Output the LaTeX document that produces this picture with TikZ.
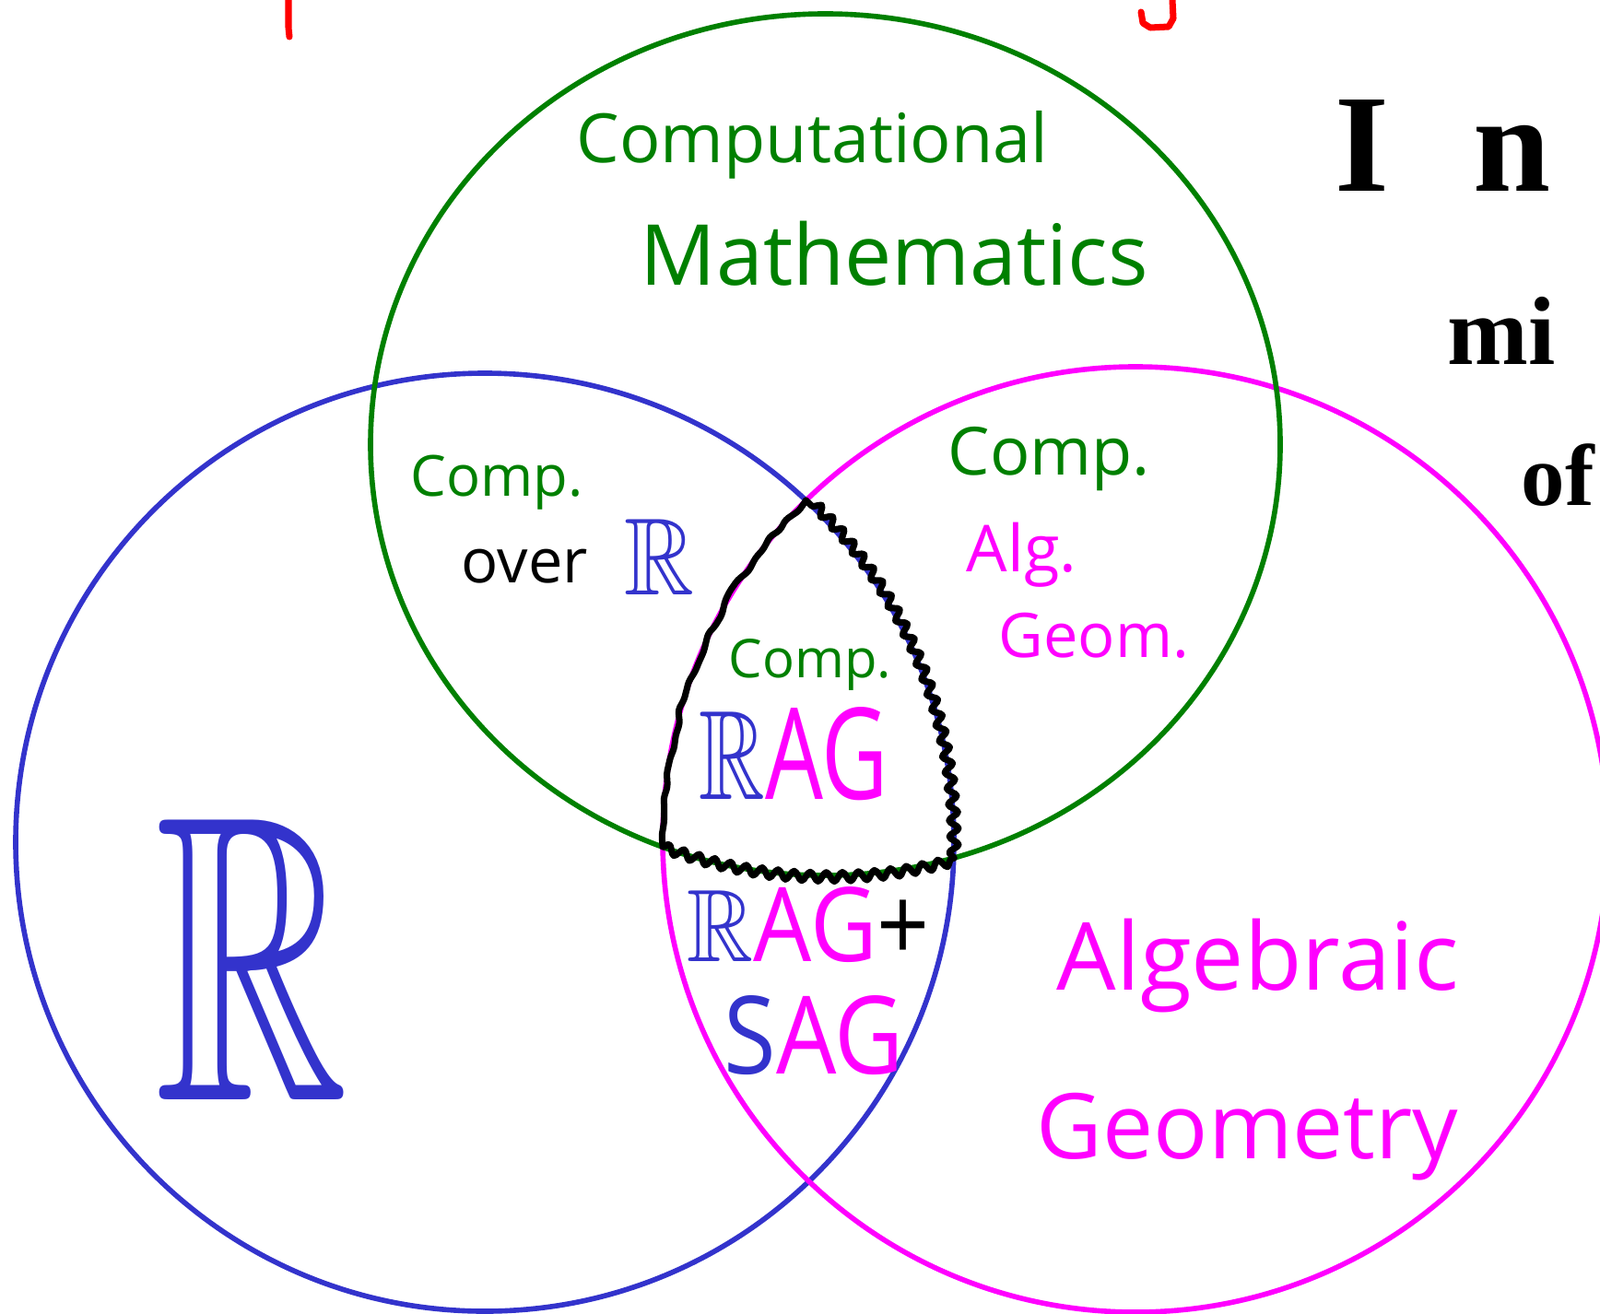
\documentclass[tikz,border=0pt]{standalone}
\usepackage{fontspec}
\setmainfont{Open Sans}
\newfontfamily\sidefont{Liberation Serif}
\usepackage{amssymb}
\usepackage{graphicx}
\usetikzlibrary{decorations.pathmorphing}
\definecolor{CompClr}{rgb}{0,0.5,0}
\definecolor{RealClr}{rgb}{0.2,0.2,0.8}
\definecolor{AlgClr}{rgb}{1,0,1}
\definecolor{CutClr}{rgb}{1,0,0}
\newcommand{\bbR}{$\mathbb{R}$}

\begin{document}
\begin{tikzpicture}[
  ring/.style={line width=1.6pt},
  fuzzy/.style={line width=2pt,line join=round,line cap=round,decorate,
    decoration={snake,amplitude=1.4pt,segment length=5pt}},
  rough/.style={line width=2pt,line join=round,line cap=round,rounded corners=1pt,decorate,
    decoration={random steps,amplitude=.9pt,segment length=4pt}},
  lbl/.style={inner sep=0pt,anchor=base west},
  cut/.style={line width=2pt,line cap=round,line join=round,CutClr}]

\useasboundingbox (0,0) rectangle (17.36,14.25);
\clip (0,0) rectangle (17.36,14.25);

\coordinate (G) at (8.955,9.425);
\coordinate (B) at (5.26,5.11);
\coordinate (M) at (12.32,5.14);
\coordinate (T) at (8.745,8.82);
\coordinate (L) at (7.191,5.059);
\coordinate (K) at (10.347,4.941);

\draw[ring,RealClr] (B) circle [radius=5.09];
\draw[ring,AlgClr] (M) circle [radius=5.13];
\draw[ring,CompClr] (G) ellipse [x radius=4.935,y radius=4.675];

\draw[rough] (T) arc [start angle=134.2,end angle=180.9,radius=5.13];
\draw[fuzzy] (L) arc [start angle=249,end angle=286.4,x radius=4.935,y radius=4.675];
\draw[fuzzy] (K) arc [start angle=-1.9,end angle=46.8,radius=5.09];

\draw[cut] (3.13,14.25) -- (3.13,13.95) -- (3.14,13.85);
\draw[cut] (12.72,14.25) -- (12.73,14.05) -- (12.68,13.96) -- (12.48,13.95) -- (12.40,14.00) -- (12.38,14.12);

\node[lbl,text=CompClr,font=\fontsize{21}{25}\selectfont] (comp) at (6.25,12.48) {Computational};
\node[lbl,text=CompClr,font=\fontsize{26}{30}\selectfont] (math) at (6.94,11.15) {Mathematics};

\node[lbl,text=CompClr,font=\fontsize{17.5}{21}\selectfont] (compR) at (4.45,8.87) {Comp.};
\node[lbl,font=\fontsize{19}{23}\selectfont] (over) at (5.00,7.93) {over};
\node[lbl,text=RealClr] (overR) at (6.77,7.80) {\resizebox{.76cm}{.82cm}{\bbR}};

\node[lbl,text=CompClr,font=\fontsize{20.5}{24}\selectfont] (compA) at (10.28,9.10) {Comp.};
\node[lbl,text=AlgClr,font=\fontsize{20}{24}\selectfont] (alg) at (10.48,8.05) {Alg.};
\node[lbl,text=AlgClr,font=\fontsize{19}{23}\selectfont] (geom) at (10.83,7.12) {Geom.};

\node[lbl,text=CompClr,font=\fontsize{16.5}{20}\selectfont] (compM) at (7.90,6.90) {Comp.};
\node[lbl] (rag) at (7.58,5.58) {\resizebox{2.05cm}{1cm}{\textcolor{RealClr}{\bbR}\textcolor{AlgClr}{AG}}};
\node[lbl] (ragp) at (7.45,3.82) {\resizebox{2.63cm}{.81cm}{\textcolor{RealClr}{\bbR}\textcolor{AlgClr}{AG}+}};
\node[lbl] (sag) at (7.85,2.60) {\resizebox{1.95cm}{.85cm}{\textcolor{RealClr}{S}\textcolor{AlgClr}{AG}}};

\node[lbl,text=RealClr] (bigR) at (1.68,2.32) {\resizebox{2.1cm}{3.05cm}{\bbR}};

\node[lbl,text=AlgClr,font=\fontsize{29}{34}\selectfont] (algebra) at (11.46,3.51) {Algebraic};
\node[lbl,text=AlgClr,font=\fontsize{28}{33}\selectfont] (geometry) at (11.24,1.68) {Geometry};

\node[lbl,font=\sidefont\bfseries\fontsize{43}{48}\selectfont\addfontfeature{LetterSpace=60}] (in) at (14.48,12.17) {In};
\node[lbl,font=\sidefont\bfseries\fontsize{30}{34}\selectfont] (mi) at (15.70,10.30) {mi};
\node[lbl,font=\sidefont\bfseries\fontsize{27}{31}\selectfont] (of) at (16.50,8.77) {of};
\end{tikzpicture}
\end{document}
